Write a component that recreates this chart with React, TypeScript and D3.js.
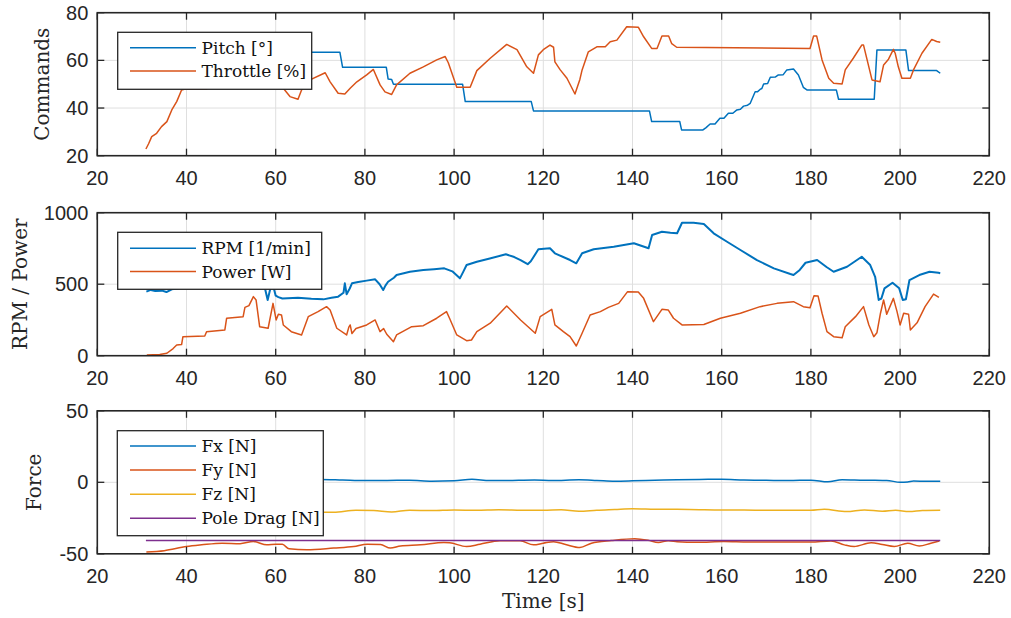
import React from "react";
import * as d3 from "d3";

// ---------- DATA ----------
const xTicks = [20, 40, 60, 80, 100, 120, 140, 160, 180, 200, 220];
const yTicksCmd = [20, 40, 60, 80];
const yTicksRpm = [0, 500, 1000];
const yTicksForce = [-50, 0, 50];

const pitchT = [31, 74.4, 75.0, 84.8, 85.2, 86.0, 86.4, 101.9, 102.5, 117.3, 117.8, 143.8, 144.3, 150.6, 151.0, 155.8, 156.5, 157.4, 158.5, 159.6, 160.5, 161.5, 162.5, 163.4, 164.2, 164.9, 165.8, 166.4, 167.5, 168.0, 168.6, 169.0, 169.4, 170.3, 170.9, 172.0, 172.7, 173.8, 174.6, 176.1, 177.2, 178.3, 179.1, 185.7, 186.2, 194.2, 194.8, 201.3, 201.9, 208.2, 209];
const pitchV = [63.4, 63.4, 57.1, 57.1, 52.2, 52.0, 50.0, 50.0, 42.7, 42.7, 38.8, 38.8, 34.3, 34.3, 30.8, 30.8, 31.8, 33.3, 33.3, 35.7, 35.7, 37.8, 37.8, 39.2, 39.5, 40.8, 41.2, 42.0, 46.8, 46.8, 47.8, 48.2, 50.1, 50.3, 52.9, 53.0, 53.9, 54.0, 56.0, 56.4, 53.9, 48.7, 47.6, 47.6, 43.7, 43.7, 64.3, 64.3, 55.7, 55.7, 54.6];

const throttleT = [30.9, 31.5, 32.2, 33.3, 34.4, 35.6, 36.7, 37.8, 38.9, 39.5, 44.5, 45.5, 48.5, 49.5, 53, 55, 56.3, 58.3, 59.4, 60.2, 61.4, 61.7, 63.2, 65, 65.8, 67.7, 71.1, 72.2, 74, 75.5, 76.7, 78.2, 80.4, 81.9, 83.4, 84.5, 86, 87.1, 90.1, 93.1, 96.1, 98, 98.7, 100.6, 103.6, 105.1, 108.1, 111.8, 114.1, 116.3, 117.8, 118.9, 120, 121.5, 122.3, 122.6, 123.8, 125.3, 127.1, 128.2, 128.7, 130.1, 132, 133.9, 135, 136.5, 138.7, 141.3, 142.5, 144.3, 145.5, 146.6, 148.1, 148.8, 149.9, 179.8, 180.6, 181.3, 182.5, 184, 185.1, 187, 187.7, 189.5, 191.4, 191.8, 193.7, 195.5, 196.3, 197.4, 198.5, 198.9, 199.6, 200.4, 202.3, 203, 204.9, 207.1, 208.2, 209];
const throttleV = [22.8, 25, 28, 29.4, 32.2, 34.3, 39.2, 42.7, 47.6, 47.9, 47.9, 50.5, 51, 54, 55, 60, 53, 51, 58, 54, 49.5, 48.3, 44.8, 43.7, 47.6, 51.8, 54.8, 51, 46.2, 45.9, 48.3, 51, 53.9, 56.2, 49.7, 46.8, 45.7, 49.7, 54.6, 57.3, 60.2, 61.6, 59, 48.7, 48.7, 55.7, 60.9, 66.7, 64.5, 57.3, 54.6, 62.3, 64.5, 66.4, 65.5, 59.4, 56, 52.5, 45.9, 52, 56, 63.6, 65.7, 65.7, 67.8, 68.5, 74.1, 73.9, 69.9, 65, 65, 70.2, 70.2, 67, 65.5, 65, 70.2, 70.2, 60.2, 52.5, 50.4, 50.1, 56, 60.9, 66.4, 66.4, 51.8, 51, 58.1, 60.5, 64.6, 63, 57.3, 52.5, 52.5, 56, 63, 68.8, 67.9, 67.6];

const rpmT = [31, 32, 33, 34.5, 35.5, 36.7, 38, 40, 45, 50, 55, 57.6, 58.2, 58.8, 59.5, 60, 60.6, 61.5, 65, 68, 70.7, 72.5, 74, 75.2, 75.5, 75.9, 76.6, 77.1, 78.5, 80.4, 82.3, 83.3, 84.1, 84.6, 85.2, 86.5, 87.1, 90.1, 93.1, 95.5, 97.8, 99.6, 101.3, 102.1, 102.8, 105.1, 108, 111.6, 113.5, 114.9, 116.5, 117.2, 118.9, 121.5, 122.6, 126, 127.4, 128.7, 131.3, 135.8, 140.3, 143.6, 144.4, 146.6, 148.5, 150, 151.1, 153.7, 156, 158.2, 161.2, 164.2, 167.9, 171.7, 175.4, 176.1, 177.5, 178.8, 181.4, 183.5, 185.1, 188.1, 191.4, 193.3, 194.4, 195.2, 195.8, 196.5, 198.3, 199.8, 200.6, 201.3, 202.1, 204.3, 206.6, 208.6, 209];
const rpmV = [448, 460, 452, 455, 445, 464, 470, 480, 490, 500, 510, 470, 390, 470, 480, 420, 410, 400, 405, 398, 394, 405, 413, 440, 506, 430, 470, 506, 515, 525, 534, 500, 459, 490, 517, 545, 564, 587, 599, 605, 611, 590, 541, 590, 634, 657, 680, 709, 690, 669, 640, 660, 744, 751, 716, 669, 646, 716, 744, 762, 786, 751, 844, 867, 860, 856, 930, 930, 921, 856, 797, 739, 669, 611, 571, 564, 600, 650, 669, 620, 587, 622, 692, 634, 552, 390, 400, 471, 510, 471, 390, 395, 529, 564, 587, 580, 577];

const powerT = [31.1, 34, 35.6, 37, 37.8, 38.9, 39.2, 44.1, 44.5, 48.6, 49, 52.7, 53.1, 54, 55, 55.6, 56.4, 58.3, 59.4, 60.1, 60.6, 61.3, 61.7, 63.5, 65.8, 67.3, 69.5, 71.4, 72.2, 73.7, 75.9, 76.4, 76.7, 77.1, 78, 80.4, 82.3, 83.4, 84.2, 84.9, 86.4, 87.1, 90.5, 93.1, 96.1, 98.3, 99, 100.6, 102.8, 103.9, 105.1, 108.1, 111.8, 114.9, 118.2, 119.3, 121.9, 122.6, 124.5, 126, 127.4, 128.7, 130.5, 132.8, 134.6, 136.9, 138.9, 141.3, 142.5, 144.7, 146.6, 148, 149.2, 151.1, 156, 159.7, 164.2, 168.6, 172.4, 176.1, 178.3, 179.8, 180.7, 181.6, 182.5, 183.6, 185.1, 187, 187.7, 190, 191.8, 193, 194.1, 194.8, 195.6, 196.3, 197, 198.5, 199.3, 200, 200.8, 201.9, 202.3, 203.8, 205.6, 207.5, 208.7];
const powerV = [5, 8, 17, 50, 75, 78, 133, 138, 168, 180, 262, 273, 338, 350, 413, 390, 203, 192, 366, 250, 290, 285, 215, 168, 145, 273, 308, 343, 320, 192, 145, 200, 215, 155, 190, 215, 250, 168, 190, 150, 98, 145, 203, 210, 262, 308, 260, 145, 105, 110, 168, 227, 348, 250, 157, 273, 324, 215, 168, 133, 68, 157, 285, 308, 338, 366, 448, 445, 401, 238, 324, 320, 262, 215, 218, 262, 297, 343, 366, 378, 343, 335, 420, 418, 297, 168, 133, 126, 203, 273, 343, 215, 133, 160, 297, 390, 290, 401, 310, 215, 297, 290, 180, 230, 343, 431, 408];

const fxT = [31, 40, 50, 60, 70, 75, 80, 85, 90, 95, 100, 104, 108, 112, 118, 122, 128, 132, 136, 140, 145, 150, 155, 160, 165, 170, 175, 180, 183.8, 187, 192, 197, 200, 201.7, 203, 206, 209];
const fxV = [1.5, 1.3, 1.8, 1.2, 2.0, 1.6, 1.2, 1.3, 1.4, 0.8, 1.0, 2.1, 1.2, 1.3, 1.6, 1.2, 1.7, 1.3, 0.8, 1.0, 1.4, 1.8, 2.0, 2.1, 1.6, 1.4, 1.2, 1.5, 0.3, 1.8, 1.4, 1.3, 0.0, 0.2, 0.9, 0.7, 0.8];

const fzT = [31, 50, 65, 70, 73, 78, 82, 86, 90, 95, 100, 105, 110, 115, 120, 124, 128, 132, 136, 140, 145, 150, 155, 160, 165, 170, 175, 180, 183, 188, 192, 196, 199, 202, 205, 209];
const fzV = [-20, -20, -21, -21, -21, -19.6, -19.8, -20.7, -19.5, -19.8, -19.4, -19.6, -19.2, -19.5, -19.6, -19.2, -20.3, -19.5, -19.0, -18.5, -18.8, -18.9, -19.2, -19.4, -19.4, -19.6, -19.5, -19.6, -18.9, -20.5, -19.3, -20.2, -19.5, -20.5, -19.8, -19.6];

const fyT = [31, 35, 40, 43.4, 48, 52, 55, 58, 60, 61.5, 63, 67, 73, 77.5, 80.5, 83.5, 85.7, 88, 92.5, 97.7, 99, 102.8, 105.8, 110.3, 114.8, 117.8, 120, 122.3, 125, 128.2, 130.8, 135.3, 140.5, 143.5, 145.8, 148, 150, 154.5, 160.5, 166, 172.5, 180, 184.5, 187.5, 189.7, 193.5, 196, 198.7, 201.7, 204.3, 206.9, 208.8];
const fyV = [-48.8, -47.8, -44.9, -43.75, -42.6, -42.9, -41.4, -43.75, -43.3, -43.4, -46.5, -47.2, -46, -44.9, -43.3, -43.5, -46, -44.5, -43.75, -42.1, -42.3, -44.9, -43.3, -40.9, -40.9, -43.75, -42.6, -41.5, -43.5, -45.6, -42.6, -40.7, -39.4, -40.5, -42.1, -40.9, -41.5, -42, -41.4, -41.8, -41.8, -41.8, -41, -43.75, -44.9, -42.3, -43.5, -44.9, -42.6, -44.6, -42.6, -41.1];

const dragT = [30.9, 209];
const dragV = [-40.7, -40.7];

const C_BLUE = "#0072BD";
const C_ORANGE = "#D95319";
const C_YELLOW = "#EDB120";
const C_PURPLE = "#7E2F8E";

// ---------- LAYOUT ----------
const W = 1011;
const H = 618;
const X0 = 97.3;
const X1 = 989.3;
const PH = 143;
const tops = [12.7, 212.7, 410.8];
const AX = "#262626";
const GRID = "#dfdfdf";
const SANS = "'Liberation Sans', Arial, Helvetica, sans-serif";
const SERIF = "'DejaVu Serif', serif";

const x = d3.scaleLinear().domain([20, 220]).range([X0, X1]);

type Series = { t: number[]; v: number[]; color: string; label: string; curve?: any; width?: number };

function Panel({ top, domain, yTicks, series, ylabel, ylabelX, legend }: {
  top: number; domain: [number, number]; yTicks: number[]; series: Series[]; ylabel: string; ylabelX: number;
  legend: { x: number; y: number; w: number; rows: number[] };
}) {
  const y = d3.scaleLinear().domain(domain).range([top + PH, top]);
  const tick = 7;
  return (
    <g>
      {xTicks.map((t) => (
        <line key={"gx" + t} x1={x(t)} x2={x(t)} y1={top} y2={top + PH} stroke={GRID} strokeWidth={1} />
      ))}
      {yTicks.map((t) => (
        <line key={"gy" + t} x1={X0} x2={X1} y1={y(t)} y2={y(t)} stroke={GRID} strokeWidth={1} />
      ))}
      {series.map((s, i) => {
        const pts: [number, number][] = s.t.map((tt, j) => [tt, s.v[j]]);
        const gen = d3.line<[number, number]>().x((d) => x(d[0])).y((d) => y(d[1])).curve(s.curve || d3.curveLinear);
        return <path key={i} d={gen(pts) || ""} fill="none" stroke={s.color} strokeWidth={s.width || 1.5} strokeLinejoin="round" />;
      })}
      <rect x={X0} y={top} width={X1 - X0} height={PH} fill="none" stroke={AX} strokeWidth={1.6} />
      {xTicks.map((t) => (
        <g key={"tx" + t}>
          <line x1={x(t)} x2={x(t)} y1={top + PH} y2={top + PH - tick} stroke={AX} strokeWidth={1.3} />
          <line x1={x(t)} x2={x(t)} y1={top} y2={top + tick} stroke={AX} strokeWidth={1.3} />
          <text x={x(t)} y={top + PH + 29.5} textAnchor="middle" fontFamily={SANS} fontSize={20} fill={AX}>{t}</text>
        </g>
      ))}
      {yTicks.map((t) => (
        <g key={"ty" + t}>
          <line x1={X0} x2={X0 + tick} y1={y(t)} y2={y(t)} stroke={AX} strokeWidth={1.3} />
          <line x1={X1} x2={X1 - tick} y1={y(t)} y2={y(t)} stroke={AX} strokeWidth={1.3} />
          <text x={X0 - 9} y={y(t) + 7} textAnchor="end" fontFamily={SANS} fontSize={20} fill={AX}>{t}</text>
        </g>
      ))}
      <text transform={`translate(${ylabelX},${top + PH / 2}) rotate(-90)`} textAnchor="middle" fontFamily={SERIF} fontSize={20} fill={AX}>{ylabel}</text>
      <rect x={legend.x} y={legend.y} width={legend.w} height={legend.rows.length * 24 + 9} fill="#fff" stroke={AX} strokeWidth={1.3} />
      {series.slice(0, legend.rows.length).map((s, i) => {
        const ry = legend.rows[i];
        return (
          <g key={"lg" + i}>
            <line x1={130} x2={196} y1={ry} y2={ry} stroke={s.color} strokeWidth={1.6} />
            <text x={201.5} y={ry + 6} fontFamily={SERIF} fontSize={17} fill="#111">{s.label}</text>
          </g>
        );
      })}
    </g>
  );
}

export default function App() {
  const monotone = d3.curveMonotoneX;
  return (
    <svg width={W} height={H} style={{ position: "absolute", left: 0, top: 0, background: "#fff" }}>
      <rect x={0} y={0} width={W} height={H} fill="#fff" />
      <Panel
        top={tops[0]}
        domain={[20, 80]}
        yTicks={yTicksCmd}
        ylabel="Commands"
        ylabelX={49}
        series={[
          { t: pitchT, v: pitchV, color: C_BLUE, label: "Pitch [°]" },
          { t: throttleT, v: throttleV, color: C_ORANGE, label: "Throttle [%]" },
        ]}
        legend={{ x: 117.7, y: 32.3, w: 194, rows: [47.7, 71] }}
      />
      <Panel
        top={tops[1]}
        domain={[0, 1000]}
        yTicks={yTicksRpm}
        ylabel="RPM / Power"
        ylabelX={27}
        series={[
          { t: rpmT, v: rpmV, color: C_BLUE, label: "RPM [1/min]", width: 2 },
          { t: powerT, v: powerV, color: C_ORANGE, label: "Power [W]" },
        ]}
        legend={{ x: 117.7, y: 232.3, w: 204, rows: [248.3, 271.5] }}
      />
      <Panel
        top={tops[2]}
        domain={[-50, 50]}
        yTicks={yTicksForce}
        ylabel="Force"
        ylabelX={41}
        series={[
          { t: fxT, v: fxV, color: C_BLUE, label: "Fx [N]", curve: monotone },
          { t: fyT, v: fyV, color: C_ORANGE, label: "Fy [N]", curve: monotone },
          { t: fzT, v: fzV, color: C_YELLOW, label: "Fz [N]", curve: monotone },
          { t: dragT, v: dragV, color: C_PURPLE, label: "Pole Drag [N]" },
        ]}
        legend={{ x: 117.3, y: 430.7, w: 206, rows: [446, 470, 494.3, 518.3] }}
      />
      <text x={543.3} y={608} textAnchor="middle" fontFamily={SERIF} fontSize={20} fill={AX}>Time [s]</text>
    </svg>
  );
}
